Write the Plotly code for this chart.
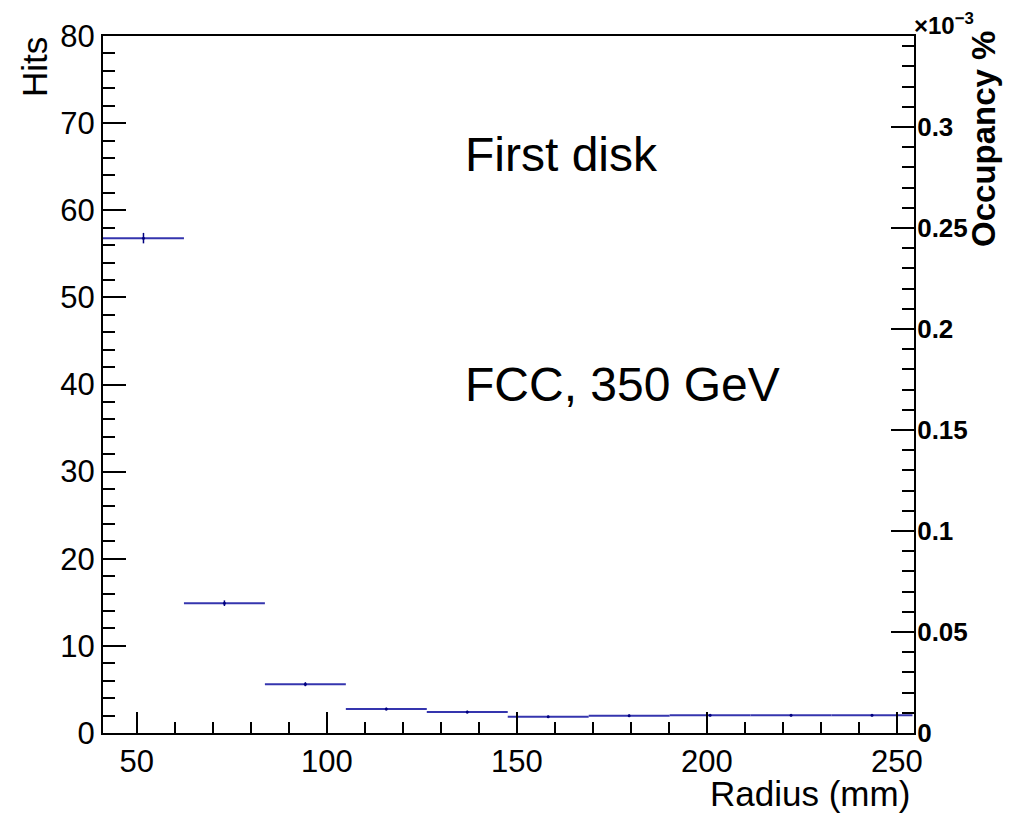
import plotly.graph_objects as go

# Hits per radius bin, first disk (FCC, 350 GeV)
bin_edges = [41.1, 62.4, 83.7, 105.0, 126.3, 147.6, 168.9, 190.2, 211.5, 232.8, 254.1]
hits = [56.8, 14.9, 5.6, 2.75, 2.4, 1.87, 1.99, 2.03, 2.03, 2.03]
hit_errors = [0.6, 0.32, 0.23, 0.15, 0.15, 0.12, 0.12, 0.12, 0.12, 0.12]

# right axis: occupancy in units of 1e-3 %
occ_max = 0.345
hits_max = 80

centers = [(a + b) / 2 for a, b in zip(bin_edges[:-1], bin_edges[1:])]
half_widths = [(b - a) / 2 for a, b in zip(bin_edges[:-1], bin_edges[1:])]
occupancy = [h * occ_max / hits_max for h in hits]

FONT = "Liberation Sans, Arial, Helvetica, sans-serif"

fig = go.Figure()

fig.add_trace(go.Scatter(
    x=centers, y=hits,
    mode='markers',
    marker=dict(color='#00007f', size=3),
    error_x=dict(type='data', array=half_widths, width=0, thickness=2, color='#3535ae'),
    error_y=dict(type='data', array=hit_errors, width=0, thickness=1.5, color='#00007f'),
    showlegend=False, hoverinfo='x+y',
))

# invisible trace so the occupancy axis is drawn
fig.add_trace(go.Scatter(
    x=centers, y=occupancy, yaxis='y2',
    mode='markers', marker=dict(opacity=0),
    showlegend=False, hoverinfo='skip',
))

# page body has an 8px margin, so the figure is a bit smaller than the window
fig.update_layout(
    width=1015, height=805,
    margin=dict(l=95, r=109, t=28, b=80),
    paper_bgcolor='white', plot_bgcolor='white',
    font=dict(family=FONT, color='black'),
    xaxis=dict(
        range=[bin_edges[0], 254.5],
        tick0=0, dtick=50,
        ticks='inside', ticklen=21, tickwidth=1.5, tickcolor='black',
        minor=dict(dtick=10, ticks='inside', ticklen=11, tickwidth=1.5, tickcolor='black'),
        showline=True, linecolor='black', linewidth=2, mirror=True,
        showgrid=False, zeroline=False,
        tickfont=dict(size=31),
    ),
    yaxis=dict(
        range=[0, hits_max],
        tick0=0, dtick=10,
        ticks='inside', ticklen=23, tickwidth=1.5, tickcolor='black',
        minor=dict(dtick=2, ticks='inside', ticklen=12, tickwidth=1.5, tickcolor='black'),
        showline=True, linecolor='black', linewidth=2,
        showgrid=False, zeroline=False,
        tickfont=dict(size=31),
    ),
    yaxis2=dict(
        overlaying='y', side='right',
        range=[0, occ_max],
        tick0=0, dtick=0.05,
        ticks='inside', ticklen=23, tickwidth=1.5, tickcolor='black',
        minor=dict(dtick=0.01, ticks='inside', ticklen=12, tickwidth=1.5, tickcolor='black'),
        showline=True, linecolor='black', linewidth=2,
        showgrid=False, zeroline=False,
        tickfont=dict(size=26, weight='bold'),
        ticklabelstandoff=-4,
    ),
)

annotations = [
    dict(text="First disk", x=135.9, y=66.4, xref='x', yref='y',
         xanchor='left', yanchor='middle', font=dict(size=48)),
    dict(text="FCC, 350 GeV", x=135.9, y=40.0, xref='x', yref='y',
         xanchor='left', yanchor='middle', font=dict(size=48)),
    dict(text="Hits", x=-0.085, y=1.0014, xref='paper', yref='paper',
         xanchor='center', yanchor='top', textangle=-90, font=dict(size=35)),
    dict(text="Radius (mm)", x=0.9975, y=-0.118, xref='paper', yref='paper',
         xanchor='right', yanchor='bottom', font=dict(size=35)),
    dict(text="Occupancy %", x=1.085, y=1.01, xref='paper', yref='paper',
         xanchor='center', yanchor='top', textangle=-90,
         font=dict(size=33, weight='bold')),
    dict(text="×10<sup>−3</sup>", x=0.998, y=1.042, xref='paper', yref='paper',
         xanchor='left', yanchor='top', font=dict(size=24, weight='bold')),
]
for a in annotations:
    a['showarrow'] = False
    fig.add_annotation(**a)

fig.write_html("out.html")
